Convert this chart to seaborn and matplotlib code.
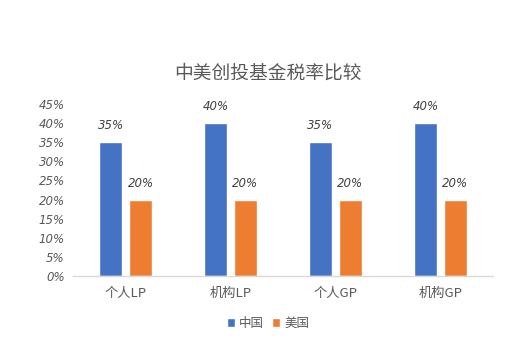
import matplotlib
matplotlib.use("Agg")
import matplotlib.pyplot as plt
import seaborn as sns
import pandas as pd
from matplotlib.ticker import FuncFormatter

categories = ["个人LP", "机构LP", "个人GP", "机构GP"]
china = [35, 40, 35, 40]
usa = [20, 20, 20, 20]
series_names = ["中国", "美国"]
y_ticks = [0, 5, 10, 15, 20, 25, 30, 35, 40, 45]

df = pd.DataFrame({
    "类别": categories * 2,
    "税率": china + usa,
    "国家": [series_names[0]] * 4 + [series_names[1]] * 4,
})

sns.set_theme(style="white")
plt.rcParams["font.family"] = ["Noto Sans CJK SC", "DejaVu Sans"]

grey = "#595959"
fig = plt.figure(figsize=(5.15, 3.42), dpi=100)
ax = fig.add_axes([0.142, 0.193, 0.815, 0.503])

sns.barplot(data=df, x="类别", y="税率", hue="国家", ax=ax,
            palette=["#4472C4", "#ED7D31"], width=0.57, gap=0.23,
            saturation=1, legend=True)

for cont in ax.containers:
    ax.bar_label(cont, labels=[f"{v:.0f}%" for v in cont.datavalues],
                 padding=7, fontsize=8.5, color="#404040",
                 family="DejaVu Sans", style="italic")

ax.set_ylim(0, 45)
ax.set_yticks(y_ticks)
ax.yaxis.set_major_formatter(FuncFormatter(lambda v, p: f"{v:.0f}%"))
for lab in ax.get_yticklabels():
    lab.set_fontstyle("italic")
    lab.set_family("DejaVu Sans")
ax.tick_params(axis="y", labelsize=8.5, colors=grey, length=0, pad=6)
ax.tick_params(axis="x", labelsize=9.5, colors=grey, length=0, pad=8)
ax.set_xlabel("")
ax.set_ylabel("")
ax.set_xlim(-0.5, 3.5)

for s in ["top", "right", "left"]:
    ax.spines[s].set_visible(False)
ax.spines["bottom"].set_color("#D9D9D9")
ax.spines["bottom"].set_linewidth(1)

fig.text(0.52, 0.787, "中美创投基金税率比较", ha="center", va="center",
         fontsize=13.5, color=grey)

handles, labels = ax.get_legend_handles_labels()
ax.legend_.remove()
fig.legend(handles, labels, loc="center", bbox_to_anchor=(0.52, 0.055),
           ncol=2, frameon=False, fontsize=9, labelcolor=grey,
           handlelength=0.7, handleheight=0.7, handletextpad=0.3,
           columnspacing=0.6)

fig.savefig("out.png", dpi=100)
